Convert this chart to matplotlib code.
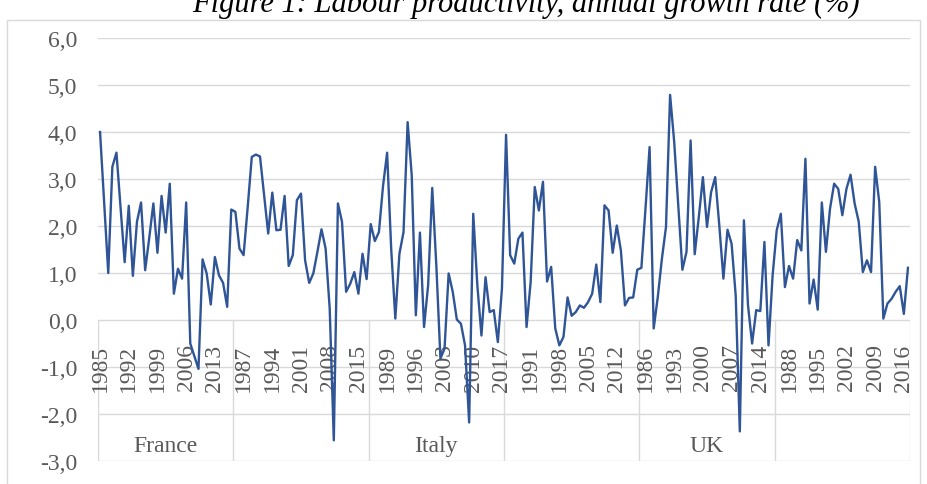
import numpy as np
import matplotlib
matplotlib.use("Agg")
import matplotlib.pyplot as plt
from matplotlib.patches import Rectangle

# labour productivity growth, six blocks of 1985-2017
years = list(range(1985, 2018))
group_labels = ["France", "", "Italy", "", "UK", ""]

g1 = [4.0, 2.5, 1.0, 3.26, 3.56, 2.4, 1.23, 2.43, 0.94, 2.09, 2.5, 1.06, 1.75, 2.48, 1.43, 2.64, 1.86,
      2.9, 0.56, 1.09, 0.88, 2.5, -0.5, -0.77, -1.04, 1.29, 0.99, 0.33, 1.34, 0.95, 0.79, 0.28, 2.35]
g2 = [2.3, 1.52, 1.38, 2.4, 3.47, 3.52, 3.48, 2.65, 1.84, 2.71, 1.91, 1.92, 2.64, 1.15, 1.38, 2.55, 2.69,
      1.27, 0.79, 0.99, 1.45, 1.93, 1.52, 0.24, -2.56, 2.48, 2.09, 0.6, 0.77, 1.02, 0.56, 1.41, 0.87]
g3 = [2.04, 1.68, 1.87, 2.85, 3.56, 1.5, 0.03, 1.41, 1.87, 4.21, 3.08, 0.1, 1.86, -0.15, 0.74, 2.81, 1.16,
      -0.82, -0.61, 0.99, 0.6, 0.01, -0.08, -0.54, -2.18, 2.26, 0.74, -0.33, 0.91, 0.17, 0.21, -0.47, 0.67]
g4 = [3.94, 1.38, 1.2, 1.73, 1.86, -0.15, 0.81, 2.83, 2.33, 2.94, 0.82, 1.13, -0.18, -0.54, -0.36, 0.48, 0.09,
      0.17, 0.31, 0.26, 0.38, 0.56, 1.18, 0.38, 2.44, 2.33, 1.43, 2.01, 1.48, 0.31, 0.47, 0.48, 1.07]
g5 = [1.11, 2.37, 3.68, -0.18, 0.49, 1.3, 1.98, 4.79, 3.79, 2.44, 1.07, 1.45, 3.82, 1.4, 2.19, 3.04, 1.98,
      2.72, 3.04, 2.01, 0.88, 1.92, 1.62, 0.52, -2.37, 2.12, 0.31, -0.5, 0.21, 0.19, 1.66, -0.54, 0.95]
g6 = [1.91, 2.26, 0.7, 1.15, 0.88, 1.7, 1.48, 3.43, 0.35, 0.86, 0.22, 2.5, 1.45, 2.37, 2.9, 2.79, 2.23,
      2.79, 3.09, 2.48, 2.09, 1.02, 1.27, 1.02, 3.26, 2.51, 0.03, 0.35, 0.45, 0.6, 0.72, 0.13, 1.11]

groups = [g1, g2, g3, g4, g5, g6]
values = np.concatenate(groups)
n = len(years)
x = np.arange(len(values))

serif = ["Liberation Serif", "DejaVu Serif"]
grey = "#595959"
gridc = "#D9D9D9"

fig = plt.figure(figsize=(9.27, 4.85), dpi=100)
fig.patches.append(Rectangle((7 / 927, -0.1), 913 / 927, 1.1 - 21 / 485, transform=fig.transFigure,
                             fill=False, edgecolor=gridc, lw=1))
# title sits half outside the top edge, as in the source image
fig.text(526 / 927, 1 - 12 / 485, "Figure 1: Labour productivity, annual growth rate (%)",
         ha="center", va="baseline", fontsize=22, style="italic", family=serif, color="black")

ax = fig.add_axes([98 / 927, 1 - 462 / 485, 812 / 927, 423 / 485])
ax.plot(x, values, color="#2F5597", lw=1.7, zorder=5, solid_joinstyle="round")

ax.set_xlim(-0.5, len(values) - 0.5)
ax.set_ylim(-3, 6)
ax.set_yticks(range(-3, 7))
ax.set_yticklabels([f"{v},0" for v in range(-3, 7)], family=serif, fontsize=17, color=grey)
ax.tick_params(axis="y", length=0, pad=15)
ax.set_xticks([])
ax.grid(axis="y", color=gridc, lw=1)
ax.set_axisbelow(True)
for s in ax.spines.values():
    s.set_visible(False)

# multi-level category axis
ax.vlines([k * n - 0.5 for k in range(len(groups) + 1)], -3, 0, color=gridc, lw=1, zorder=1)
for i in range(0, len(values), 7):
    ax.text(i, -1.0, str(years[i % n]), rotation=90, ha="center", va="center",
            fontsize=17, family=serif, color=grey, zorder=3)
for k, lab in enumerate(group_labels):
    if lab:
        ax.text(k * n + (n - 1) / 2, -2.67, lab, ha="center", va="center",
                fontsize=17, family=serif, color=grey)

fig.savefig("out.png", dpi=100)
